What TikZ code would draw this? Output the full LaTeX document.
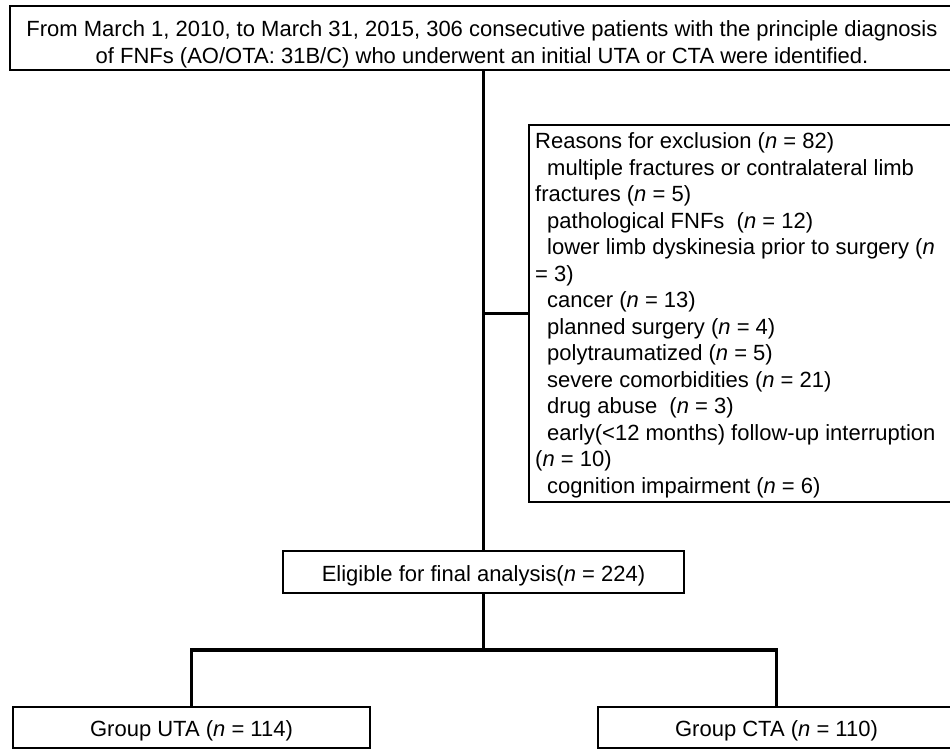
\documentclass[tikz,border=0pt]{standalone}
\usepackage{fontspec}
\setmainfont{Liberation Sans}
\begin{document}
\begin{tikzpicture}[x=1pt,y=-1pt,
  box/.style={draw=black,line width=1.8pt,fill=white,inner sep=0pt},
  single/.style={box,text height=19pt,text depth=1pt,font=\fontsize{22}{26.5}\selectfont},
  txt/.style={inner sep=0pt,font=\fontsize{22}{26.5}\selectfont},
  conn/.style={line width=3.6pt,line join=miter}]
\useasboundingbox (0,0) rectangle (950,750);
% boxes
\node[box,minimum width=946pt,minimum height=64pt,anchor=north west] (topbox) at (9,5) {};
\node[txt,anchor=north,align=center,font=\fontsize{22}{27.5}\selectfont] (toptext) at (482,19)
  {\rule{0pt}{17pt}From March 1, 2010, to March 31, 2015, 306 consecutive patients with the principle diagnosis\\
   of FNFs (AO/OTA: 31B/C) who underwent an initial UTA or CTA were identified.};
\node[box,minimum width=427pt,minimum height=377pt,anchor=north west] (excl) at (528,124) {};
\node[txt,anchor=north west,align=left] (excltext) at (535,131.6)
  {\rule{0pt}{17pt}Reasons for exclusion (\textit{n} = 82)\\
   \hspace*{12pt}multiple fractures or contralateral limb\\
   fractures (\textit{n} = 5)\\
   \hspace*{12pt}pathological FNFs\ \ (\textit{n} = 12)\\
   \hspace*{12pt}lower limb dyskinesia prior to surgery (\textit{n}\\
   = 3)\\
   \hspace*{12pt}cancer (\textit{n} = 13)\\
   \hspace*{12pt}planned surgery (\textit{n} = 4)\\
   \hspace*{12pt}polytraumatized (\textit{n} = 5)\\
   \hspace*{12pt}severe comorbidities (\textit{n} = 21)\\
   \hspace*{12pt}drug abuse\ \ (\textit{n} = 3)\\
   \hspace*{12pt}early(<12 months) follow-up interruption\\
   (\textit{n} = 10)\\
   \hspace*{12pt}cognition impairment (\textit{n} = 6)};
\node[single,minimum width=401pt,minimum height=42pt] (elig) at (483.5,572)
  {Eligible for final analysis(\textit{n} = 224)};
\node[single,minimum width=357pt,minimum height=41pt] (uta) at (191.5,727.5)
  {Group UTA (\textit{n} = 114)};
\node[single,minimum width=357pt,minimum height=41pt] (cta) at (776.5,727.5)
  {Group CTA (\textit{n} = 110)};
% connectors
\coordinate (bar) at (483.5,650);
\draw[conn] (elig.north |- topbox.south) -- (elig.north);
\draw[conn] (elig.north |- excl.west) -- (excl.west);
\draw[conn] (elig.south) -- (bar);
\draw[conn] (uta.north) |- (bar) -| (cta.north);
\end{tikzpicture}
\end{document}
